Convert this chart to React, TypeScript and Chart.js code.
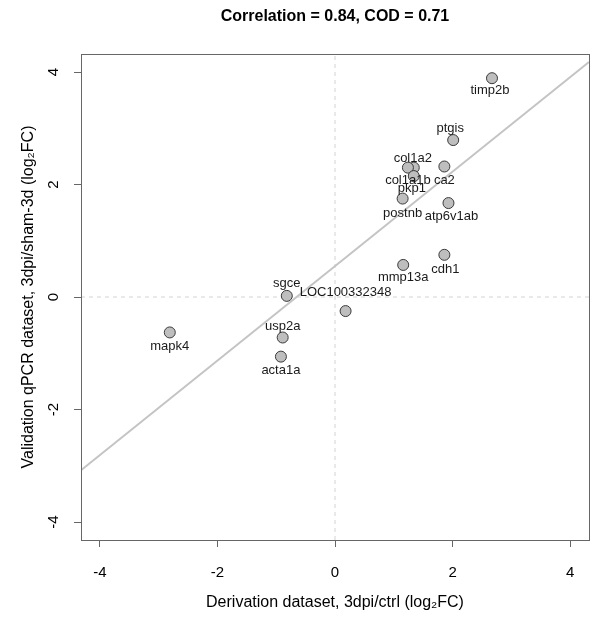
import React, { useEffect, useRef } from 'react';
import { Chart, registerables } from 'chart.js';

Chart.register(...registerables);

// ---- data ----
const genes = [
  'timp2b', 'ptgis', 'col1a2', 'ca2', 'col1a1b', 'pkp1', 'postnb', 'atp6v1ab',
  'mmp13a', 'cdh1', 'sgce', 'LOC100332348', 'usp2a', 'acta1a', 'mapk4',
];
const derivationFC = [2.67, 2.01, 1.34, 1.86, 1.24, 1.34, 1.15, 1.93, 1.16, 1.86, -0.82, 0.18, -0.89, -0.92, -2.81];
const validationFC = [3.89, 2.79, 2.30, 2.32, 2.30, 2.15, 1.75, 1.67, 0.57, 0.75, 0.02, -0.25, -0.72, -1.06, -0.63];
const fitIntercept = 0.55;
const fitSlope = 0.84;
const axisLimit = 4.32;
const tickValues = [-4, -2, 0, 2, 4];
const titleText = 'Correlation = 0.84, COD = 0.71';
const xTitle = 'Derivation dataset, 3dpi/ctrl (log\u2082FC)';
const yTitle = 'Validation qPCR dataset, 3dpi/sham-3d (log\u2082FC)';

// label placement (pixel offsets from point centre)
const labelOffsets: [number, number][] = [
  [-2, 12.5], [-3, -12], [-1, -9.5], [0, 14], [0, 12.6], [-2, 12.7], [0, 15], [3, 13.4],
  [0, 12], [1, 14.5], [0, -12], [0, -19], [0, -11.5], [0, 14], [0, 13.6],
];

const FONT = "'Liberation Sans', Arial, sans-serif";

const boxAndLabels = {
  id: 'boxAndLabels',
  afterDatasetsDraw(chart: any) {
    const { ctx, chartArea: a } = chart;
    ctx.save();
    ctx.strokeStyle = '#666666';
    ctx.lineWidth = 1;
    ctx.strokeRect(Math.round(a.left) + 0.5, Math.round(a.top) + 0.5, Math.round(a.right - a.left), Math.round(a.bottom - a.top));
    const meta = chart.getDatasetMeta(0);
    ctx.font = `13px ${FONT}`;
    ctx.textAlign = 'center';
    ctx.textBaseline = 'middle';
    ctx.fillStyle = '#1a1a1a';
    meta.data.forEach((el: any, i: number) => {
      const [dx, dy] = labelOffsets[i];
      ctx.fillText(genes[i], el.x + dx, el.y + dy);
    });
    ctx.restore();
  },
};

export default function App() {
  const ref = useRef<HTMLCanvasElement | null>(null);
  useEffect(() => {
    if (!ref.current) return;
    const L = axisLimit;
    const chart = new Chart(ref.current, {
      type: 'scatter',
      data: {
        datasets: [
          {
            label: 'genes',
            data: genes.map((_, i) => ({ x: derivationFC[i], y: validationFC[i] })),
            pointRadius: 5.5,
            pointBackgroundColor: '#bebebe',
            pointBorderColor: '#3a3a3a',
            pointBorderWidth: 1,
            showLine: false,
          },
          {
            label: 'fit',
            data: [
              { x: -L, y: fitIntercept + fitSlope * -L },
              { x: L, y: fitIntercept + fitSlope * L },
            ],
            showLine: true,
            borderColor: '#c4c4c4',
            borderWidth: 2,
            pointRadius: 0,
          },
          {
            label: 'x0',
            data: [{ x: 0, y: -L }, { x: 0, y: L }],
            showLine: true,
            borderColor: '#d4d4d4',
            borderWidth: 1,
            borderDash: [4, 4],
            pointRadius: 0,
          },
          {
            label: 'y0',
            data: [{ x: -L, y: 0 }, { x: L, y: 0 }],
            showLine: true,
            borderColor: '#d4d4d4',
            borderWidth: 1,
            borderDash: [4, 4],
            pointRadius: 0,
          },
        ],
      },
      options: {
        animation: false,
        responsive: false,
        maintainAspectRatio: false,
        layout: { padding: { left: 0, right: 11, top: 0, bottom: 0 } },
        plugins: {
          legend: { display: false },
          tooltip: { enabled: false },
          title: {
            display: true,
            text: titleText,
            fullSize: false,
            font: { family: FONT, size: 16, weight: 'bold' },
            color: '#000',
            padding: { top: 7.4, bottom: 27.4 },
          },
        },
        scales: {
          x: {
            type: 'linear',
            min: -L,
            max: L,
            afterFit: (s: any) => { s.height = 86; },
            afterBuildTicks: (s: any) => { s.ticks = tickValues.map((v) => ({ value: v })); },
            ticks: { font: { family: FONT, size: 15 }, color: '#000', padding: 17, maxRotation: 0, minRotation: 0, autoSkip: false },
            grid: { display: true, drawOnChartArea: false, drawTicks: true, tickLength: 7, tickColor: '#666666', tickWidth: 1 },
            border: { display: true, color: '#666666' },
            title: { display: true, text: xTitle, font: { family: FONT, size: 16 }, color: '#000', padding: { top: 0, bottom: 14 } },
          },
          y: {
            type: 'linear',
            min: -L,
            max: L,
            afterFit: (s: any) => { s.width = 81; },
            afterBuildTicks: (s: any) => { s.ticks = tickValues.map((v) => ({ value: v })); },
            ticks: { font: { family: FONT, size: 15 }, color: '#000', padding: 13, minRotation: 90, maxRotation: 90, crossAlign: 'center', autoSkip: false },
            grid: { display: true, drawOnChartArea: false, drawTicks: true, tickLength: 7, tickColor: '#666666', tickWidth: 1 },
            border: { display: true, color: '#666666' },
            title: { display: true, text: yTitle, font: { family: FONT, size: 16 }, color: '#000', padding: { top: 19.4, bottom: 0 } },
          },
        },
      },
      plugins: [boxAndLabels],
    } as any);
    return () => chart.destroy();
  }, []);
  return (
    <div style={{ position: 'fixed', left: 0, top: 0, width: 600, height: 626, background: '#fff' }}>
      <canvas ref={ref} width={600} height={626} style={{ display: 'block', width: 600, height: 626 }} />
    </div>
  );
}
